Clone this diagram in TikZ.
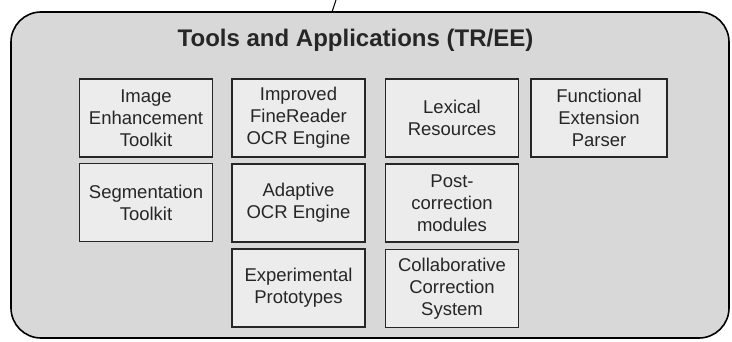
\documentclass[tikz,border=0pt]{standalone}
\usepackage{fontspec}
\setmainfont{Liberation Sans}
\definecolor{panelfill}{RGB}{216,216,216}
\definecolor{boxfill}{RGB}{236,236,236}
\definecolor{inktext}{RGB}{38,38,38}
\begin{document}
\begin{tikzpicture}[x=1pt,y=-1pt,
  panel/.style={draw=black, line width=1.6pt, fill=panelfill, rounded corners=30pt,
    minimum width=718pt, minimum height=326pt, inner sep=0pt},
  toolbox/.style={draw=black!85, line width=1.3pt, fill=boxfill, text=inktext,
    minimum width=133pt, minimum height=78pt, inner sep=0pt, align=center,
    font=\fontsize{18.5}{22}\selectfont},
  heading/.style={font=\fontsize{24}{28}\selectfont\bfseries, text=inktext, inner sep=0pt}]
\useasboundingbox (0,0) rectangle (732,342);

% outer panel and its incoming link
\node[panel] (panel) at (370,175) {};
\coordinate (stubbase) at (332,12);
\coordinate (stubtop) at (336,0);
\draw[line width=1pt] (stubbase) .. controls (334,6) .. (stubtop);

\node[heading, anchor=base] (title) at (355.5,47) {Tools and Applications (TR/EE)};

% column 1
\node[toolbox] (imgenh) at (146,118) {Image\\Enhancement\\Toolkit};
\node[toolbox] (segm)   at (146,202.5) {Segmentation\\Toolkit};
% column 2
\node[toolbox] (finereader) at (298.5,118) {Improved\\FineReader\\OCR Engine};
\node[toolbox] (adaptive)   at (298.5,203) {Adaptive\\OCR Engine};
\node[toolbox] (experim)    at (298.5,288) {Experimental\\Prototypes};
% column 3
\node[toolbox] (lexical)  at (452,118) {Lexical\\Resources};
\node[toolbox] (postcorr) at (452,203) {Post-\\correction\\modules};
\node[toolbox] (collab)   at (452,288.5) {Collaborative\\Correction\\System};
% column 4
\node[toolbox, minimum width=136pt] (funcext) at (599,118) {Functional\\Extension\\Parser};
\end{tikzpicture}
\end{document}
